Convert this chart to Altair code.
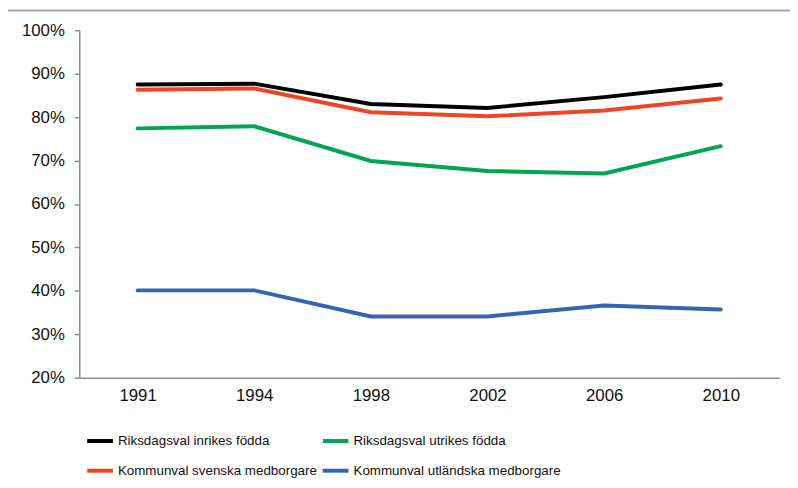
import altair as alt
import pandas as pd

years = ["1991", "1994", "1998", "2002", "2006", "2010"]
series_names = [
    "Riksdagsval inrikes födda",
    "Riksdagsval utrikes födda",
    "Kommunval svenska medborgare",
    "Kommunval utländska medborgare",
]
riks_inrikes = [87.5, 87.7, 83.0, 82.1, 84.6, 87.5]
riks_utrikes = [77.4, 77.9, 69.9, 67.6, 67.0, 73.3]
komm_svenska = [86.3, 86.6, 81.1, 80.2, 81.5, 84.3]
komm_utlandska = [40.1, 40.1, 34.1, 34.1, 36.6, 35.7]
colors = ["#000000", "#00A651", "#EE4623", "#3465B4"]

rows = []
for name, vals in zip(series_names, [riks_inrikes, riks_utrikes, komm_svenska, komm_utlandska]):
    for i, (yr, v) in enumerate(zip(years, vals)):
        rows.append({"year": yr, "series": name, "value": v / 100.0,
                     "draw": 3 - series_names.index(name)})
df = pd.DataFrame(rows)

FONT = "Arial, Liberation Sans, sans-serif"

lines = alt.Chart(df).mark_line(strokeWidth=4, strokeCap="round").encode(
    x=alt.X("year:O", sort=years,
            scale=alt.Scale(paddingInner=0, paddingOuter=0),
            axis=alt.Axis(title=None, labelAngle=0, ticks=False, domainColor="#8c8c8c",
                          domainWidth=1.5, labelFontSize=17, labelFont=FONT,
                          labelColor="#111111", labelPadding=10)),
    y=alt.Y("value:Q", scale=alt.Scale(domain=[0.2, 1.0], nice=False, zero=False),
            axis=alt.Axis(title=None, format=".0%", values=[0.2, 0.3, 0.4, 0.5, 0.6, 0.7, 0.8, 0.9, 1.0],
                          grid=False, domainColor="#8c8c8c", domainWidth=1.5,
                          tickColor="#8c8c8c", tickSize=5, tickWidth=1.5,
                          labelFontSize=17, labelFont=FONT, labelColor="#111111",
                          labelPadding=10)),
    color=alt.Color("series:N", sort=series_names,
                    scale=alt.Scale(domain=series_names, range=colors),
                    legend=alt.Legend(title=None, orient="none", legendX=6, legendY=400,
                                      direction="horizontal", columns=2, columnPadding=-3,
                                      rowPadding=7, symbolType="stroke",
                                      symbolStrokeWidth=4, symbolSize=676,
                                      labelOffset=3, labelFontSize=13.5, labelFont=FONT,
                                      labelColor="#111111", labelLimit=400, padding=0)),
    order=alt.Order("draw:Q"),
    detail="series:N",
)

frame_df = pd.DataFrame({"k": [0]})
frame = alt.Chart(frame_df).mark_rect(filled=False, stroke="#a6a6a6", strokeWidth=2).encode(
    x=alt.value(-73), x2=alt.value(900), y=alt.value(-20), y2=alt.value(700)
)

chart = alt.layer(frame, lines).properties(
    width=707, height=351,
    padding={"left": 72, "top": 20, "right": 11, "bottom": 109},
    autosize=alt.AutoSizeParams(type="none"),
).configure_view(stroke=None)

chart.save("out.html", embed_options={"renderer": "svg", "actions": False})
